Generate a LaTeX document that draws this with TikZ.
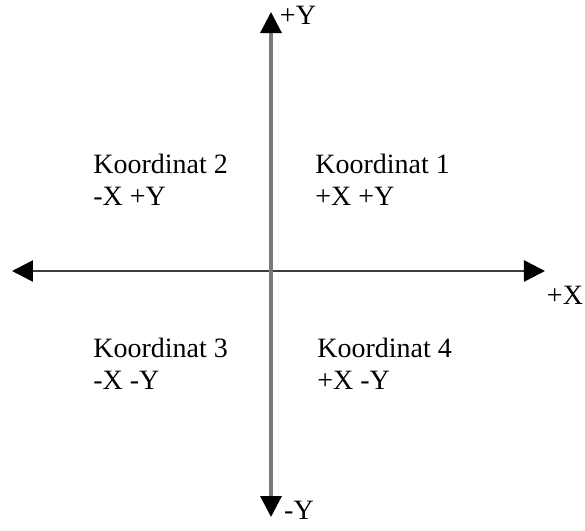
\documentclass[tikz,border=0pt]{standalone}
\usepackage{fontspec}
\setmainfont{Liberation Serif}
\usetikzlibrary{arrows.meta}
\definecolor{axisgrey}{HTML}{7A7A7A}
\definecolor{axisdark}{HTML}{3C3C3C}
\tikzset{
  tip/.style={Triangle[length=10.5pt, width=10.5pt, color=black]},
  axish/.style={{Triangle[length=10.5pt, width=10.5pt, color=black]}-{Triangle[length=10.5pt, width=10.5pt, color=black]},
                line width=1.3pt, draw=axisdark},
  axisv/.style={{Triangle[length=10.5pt, width=10.5pt, color=black]}-{Triangle[length=10.5pt, width=10.5pt, color=black]},
                line width=1.6pt, draw=axisgrey},
  quad/.style={anchor=north west, align=left, inner sep=0pt, font=\fontsize{14}{16}\selectfont},
  axlbl/.style={inner sep=0pt, font=\fontsize{14}{16}\selectfont},
}
\begin{document}
\begin{tikzpicture}[x=0.5pt, y=0.5pt]
  \useasboundingbox (-271,-260) rectangle (314,271);
  \coordinate (o) at (0,0);
  \coordinate (xmin) at (-259,0);
  \coordinate (xmax) at (274,0);
  \coordinate (ymin) at (0,-246);
  \coordinate (ymax) at (0,259);
  \draw[axish] (xmin) -- (xmax);
  \draw[axisv] (ymin) -- (ymax);
  \node[axlbl] (py) at (27,256) {+Y};
  \node[axlbl] (px) at (294,-24) {+X};
  \node[axlbl] (my) at (28,-239) {-Y};
  \node[quad] (q1) at (44,117) {Koordinat 1\\+X +Y};
  \node[quad] (q2) at (-178,117) {Koordinat 2\\-X +Y};
  \node[quad] (q3) at (-178,-67) {Koordinat 3\\-X -Y};
  \node[quad] (q4) at (46,-67) {Koordinat 4\\+X -Y};
\end{tikzpicture}
\end{document}
